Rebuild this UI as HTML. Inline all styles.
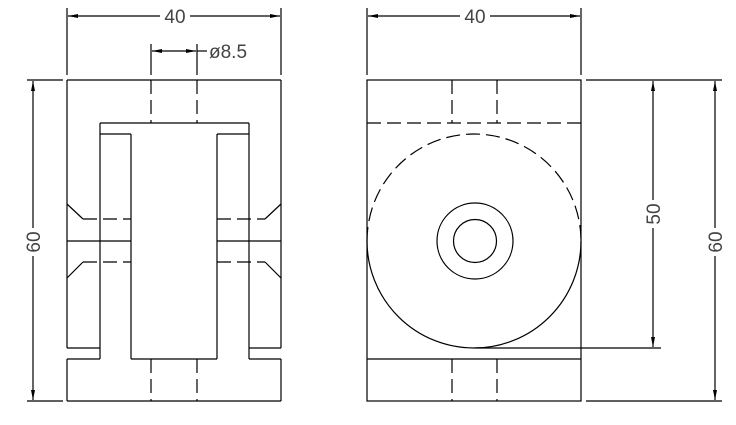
<!DOCTYPE html>
<html><head><meta charset="utf-8"><style>
html,body{margin:0;padding:0;background:#fff;}
svg{display:block;}
text{font-family:"Liberation Sans",sans-serif;font-size:19px;fill:#444;}
</style></head><body>
<svg width="736" height="425" viewBox="0 0 736 425" xmlns="http://www.w3.org/2000/svg">
<defs>
<marker id="a" viewBox="0 0 10 4" refX="10" refY="2" markerWidth="10" markerHeight="4" orient="auto-start-reverse" markerUnits="userSpaceOnUse"><path d="M0,0 L10,2 L0,4z" fill="#000"/></marker>
</defs>
<g stroke="#000" stroke-width="1.2" fill="none">
<path d="M67,80 H281 M67,401 H281 M67,80 V348 M67,359 V401 M281,80 V348 M281,359 V401"/>
<path d="M67,348 H100 M67,359 H100 M249,348 H281 M249,359 H281"/>
<path d="M100,123 H249 M100,134 H131 M217,134 H249 M100,123 V349 M249,123 V349 M131,134 V359 M217,134 V359 M131,359 H217 M100,348 V359 M249,348 V359"/>
<path d="M67,241 H131 M217,241 H281"/>
<path d="M67,204 L83,219 M67,278 L83,262 M281,204 L265,219 M281,278 L265,262"/>
<g stroke-dasharray="14,6">
<path d="M83,219 H131 M83,262 H131 M217,219 H265 M217,262 H265"/>
<path d="M151,80 V123 M197,80 V123 M151,359 V401 M197,359 V401"/>
</g>
<path d="M67,8 V75 M281,8 V75"/>
<path d="M160,16 H68" marker-end="url(#a)"/><path d="M190,16 H280" marker-end="url(#a)"/>
<path d="M151,44 V75 M197,44 V75"/>
<path d="M152,51 H196" marker-start="url(#a)" marker-end="url(#a)"/>
<path d="M197,51 H207"/>
<path d="M27,80 H63 M27,401 H63"/>
<path d="M33,228 V81" marker-end="url(#a)"/><path d="M33,256 V400" marker-end="url(#a)"/>
<rect x="367" y="80" width="214" height="321"/>
<path d="M367,359 H581"/>
<g stroke-dasharray="14,6">
<path d="M367,123 H581"/>
<path d="M452,80 V123 M497,80 V123 M452,359 V401 M497,359 V401"/>
<path d="M367,241 A107,107 0 0 1 581,241"/>
</g>
<path d="M367,241 A107,107 0 0 0 581,241"/>
<circle cx="475" cy="241" r="38"/>
<circle cx="475" cy="241" r="21.5"/>
<path d="M367,8 V75 M581,8 V75"/>
<path d="M460,16 H368" marker-end="url(#a)"/><path d="M490,16 H580" marker-end="url(#a)"/>
<path d="M475,348 H661 M586,80 H722 M586,401 H722"/>
<path d="M653,200 V81" marker-end="url(#a)"/><path d="M653,228 V347" marker-end="url(#a)"/>
<path d="M715,228 V81" marker-end="url(#a)"/><path d="M715,256 V400" marker-end="url(#a)"/>
</g>
<text x="175" y="23" text-anchor="middle">40</text>
<text x="475" y="23" text-anchor="middle">40</text>
<text x="209" y="58">ø8.5</text>
<text transform="translate(40,242) rotate(-90)" text-anchor="middle">60</text>
<text transform="translate(660,214) rotate(-90)" text-anchor="middle">50</text>
<text transform="translate(722,242) rotate(-90)" text-anchor="middle">60</text>
</svg>
</body></html>
